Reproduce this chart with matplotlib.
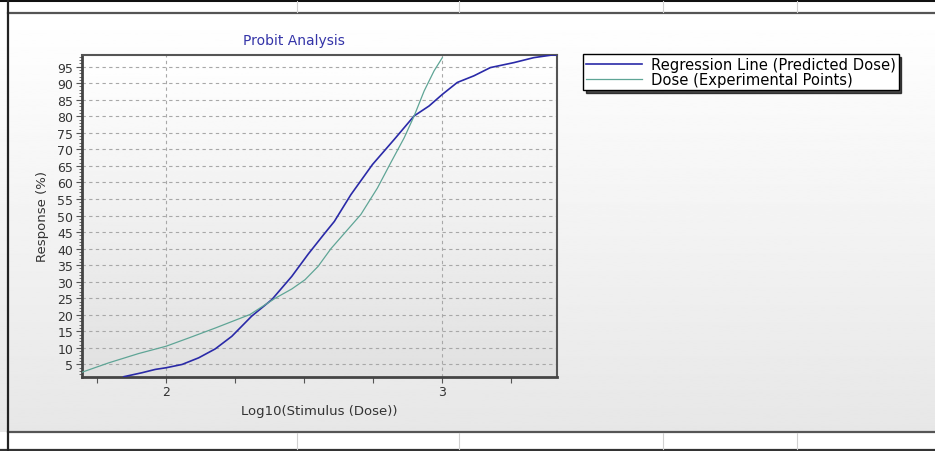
import numpy as np
import matplotlib
matplotlib.use('Agg')
import matplotlib.pyplot as plt
from matplotlib.lines import Line2D
from matplotlib.ticker import MultipleLocator

# regression line (predicted dose)
reg_x = [1.847, 1.913, 1.961, 2.0, 2.058, 2.118, 2.178, 2.238, 2.310, 2.383,
         2.455, 2.515, 2.573, 2.609, 2.669, 2.747, 2.826, 2.898, 2.952, 3.0,
         3.054, 3.114, 3.174, 3.259, 3.331, 3.397, 3.415]
reg_y = [1.3, 2.5, 3.5, 4.0, 5.0, 7.0, 9.7, 13.5, 19.6, 24.6,
         31.6, 38.4, 44.5, 48.2, 56.3, 65.4, 73.0, 80.1, 83.1, 86.6,
         90.2, 92.2, 94.7, 96.2, 97.7, 98.5, 98.5]

# experimental points
exp_x = [1.694, 1.793, 1.901, 2.0, 2.082, 2.178, 2.304, 2.395, 2.455, 2.503,
         2.550, 2.597, 2.705, 2.765, 2.813, 2.862, 2.898, 2.934, 2.970, 3.0]
exp_y = [2.6, 5.5, 8.3, 10.5, 13.0, 16.0, 20.1, 25.0, 27.8, 30.6,
         34.6, 40.0, 50.3, 58.3, 65.9, 73.5, 80.1, 87.6, 93.7, 97.7]

y_ticks = list(range(5, 100, 5))
x_ticks = [2, 3]
labels = ['Regression Line (Predicted Dose)', 'Dose (Experimental Points)']

plt.rcParams['font.family'] = ['DejaVu Sans']
W, H = 935, 452
fig = plt.figure(figsize=(W / 100, H / 100), dpi=100)

# window background with gradient
bg = fig.add_axes([0, 0, 1, 1], zorder=-10)
bg.set_axis_off()
grad = np.linspace(1.0, 0.905, 256).reshape(-1, 1)
bg.imshow(grad, cmap='gray', vmin=0, vmax=1, aspect='auto',
          extent=[0, 1, 1 - 433 / H, 1 - 14 / H], origin='upper')
bg.set_xlim(0, 1)
bg.set_ylim(0, 1)


def fig_line(x0, y0, x1, y1, color, lw):
    fig.add_artist(Line2D([x0 / W, x1 / W], [1 - y0 / H, 1 - y1 / H],
                          color=color, lw=lw, transform=fig.transFigure))


fig_line(0, 1, W, 1, '#111111', 2.2)
fig_line(8, 13.5, W, 13.5, '#555555', 1.6)
fig_line(8, 433, W, 433, '#555555', 1.6)
fig_line(0, 451, W, 451, '#333333', 1.6)
fig_line(7.5, 0, 7.5, H, '#222222', 1.6)
for xd in [297, 459, 663, 797]:
    fig_line(xd, 2, xd, 12.5, '#d0d0d0', 0.8)
    fig_line(xd, 434, xd, 450, '#d0d0d0', 0.8)

ax = fig.add_axes([81.5 / W, 1 - 377.7 / H, (557 - 81.5) / W, (377.7 - 56) / H])
ax.imshow(np.linspace(1.0, 0.88, 256).reshape(-1, 1), cmap='gray', vmin=0, vmax=1,
          aspect='auto', extent=[0, 1, 0, 1], transform=ax.transAxes, zorder=0)

ax.plot(reg_x, reg_y, color='#2a2aa8', lw=1.2, label=labels[0], zorder=3)
ax.plot(exp_x, exp_y, color='#5fa596', lw=0.9, label=labels[1], zorder=3)

ax.set_xlim(1.694, 3.415)
ax.set_ylim(1.3, 98.5)
ax.set_xticks(x_ticks)
ax.set_yticks(y_ticks)
ax.xaxis.set_minor_locator(MultipleLocator(0.25))
ax.yaxis.set_minor_locator(MultipleLocator(1))
ax.tick_params(axis='both', which='major', labelsize=9, labelcolor='#333333',
               color='#555555', length=4, width=0.8, pad=2)
ax.tick_params(axis='x', which='minor', color='#555555', length=4, width=0.8)
ax.tick_params(axis='y', which='minor', color='#555555', length=2, width=0.6)
ax.grid(True, which='major', color='#a8a8a8', linestyle=(0, (3, 3)), lw=0.8)

for side in ['top', 'right']:
    ax.spines[side].set_color('#555555')
    ax.spines[side].set_linewidth(1.5)
for side in ['left', 'bottom']:
    ax.spines[side].set_color('#444444')
    ax.spines[side].set_linewidth(2.0)

ax.set_xlabel('Log10(Stimulus (Dose))', fontsize=9.5, color='#333333', labelpad=4)
ax.set_ylabel('Response (%)', fontsize=9.5, color='#333333', labelpad=6)
fig.text(294 / W, 1 - 41 / H, 'Probit Analysis', color='#3434a8',
         fontsize=10, ha='center', va='center')

fig.legend(loc='upper left', bbox_to_anchor=(583 / W, 1 - 55 / H),
           fontsize=10.6, frameon=True, fancybox=False, edgecolor='black',
           framealpha=1, shadow={'color': 'black', 'alpha': 0.7},
           handlelength=3.8, handletextpad=0.6, labelspacing=0.0,
           borderpad=0.2, borderaxespad=0)

fig.savefig('out.png', dpi=100)
